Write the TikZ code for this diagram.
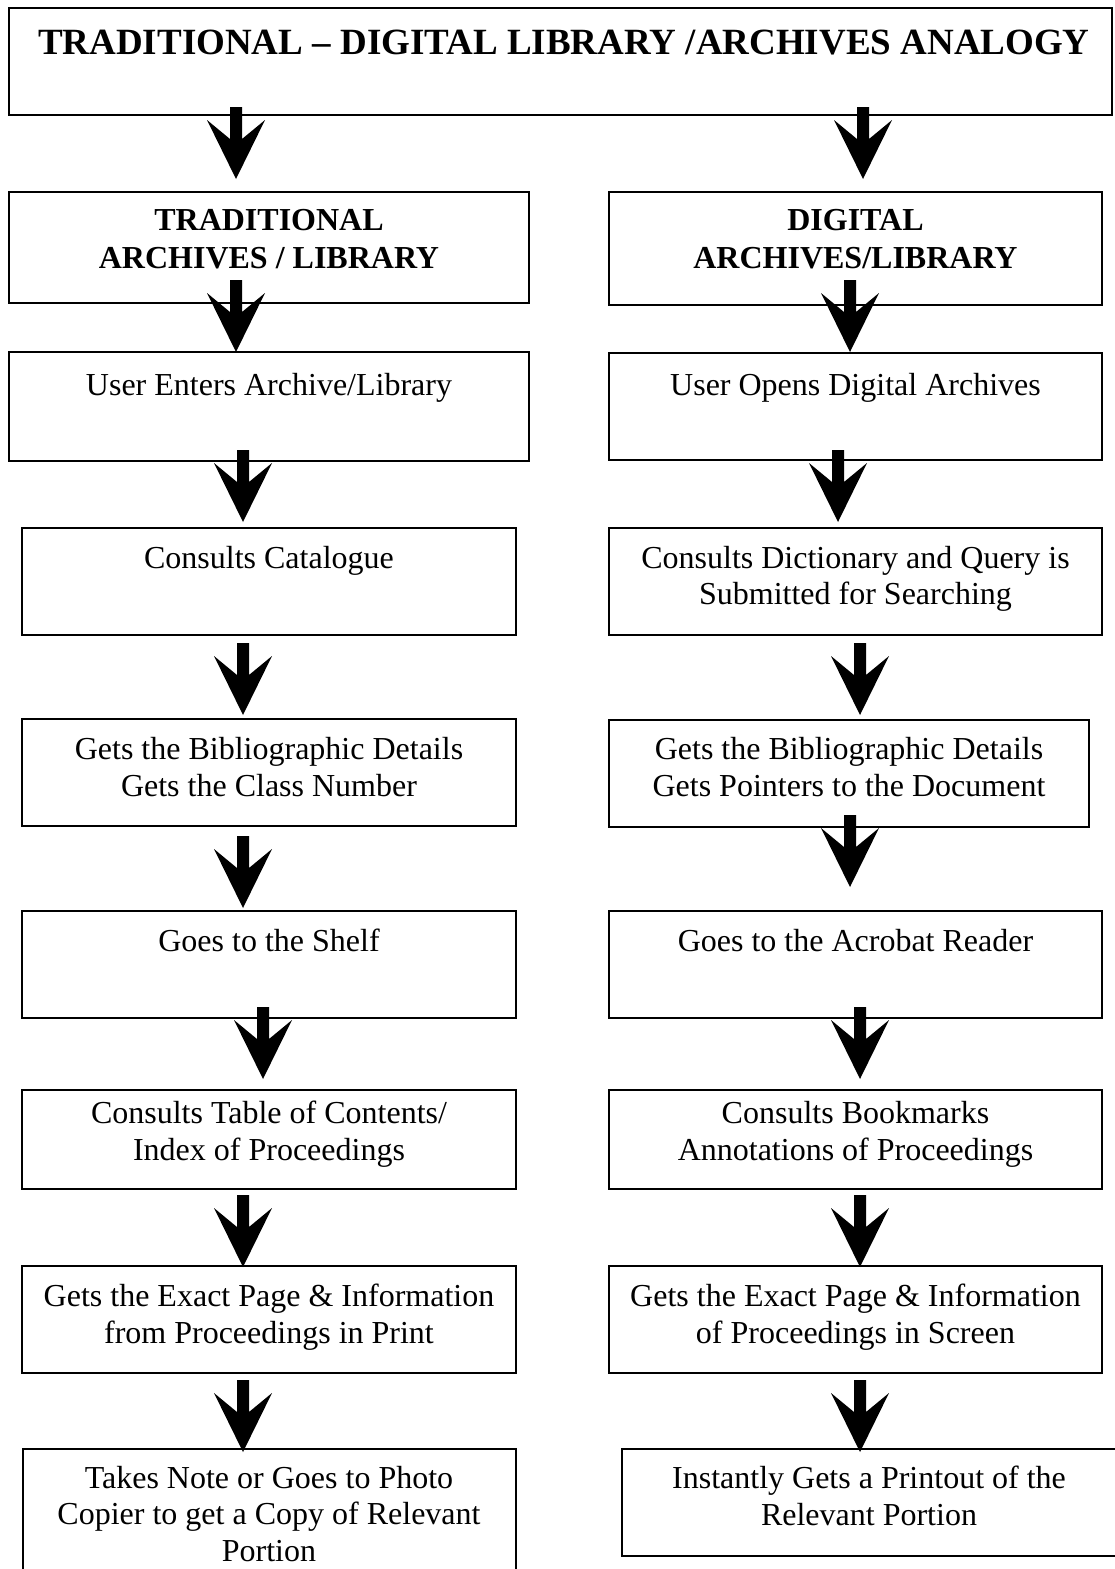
\documentclass[tikz,border=0pt]{standalone}
\usepackage{fontspec}
\setmainfont{Liberation Serif}
\usetikzlibrary{fit}
\begin{document}
\begin{tikzpicture}[x=0.5pt,y=-0.5pt,
  box/.style={draw=black,line width=1pt,inner sep=0pt,rectangle},
  txt/.style={inner sep=0pt,anchor=base,font=\fontsize{16}{18.5}\selectfont},
  btxt/.style={txt,font=\fontsize{16}{18.5}\selectfont\bfseries},
  ttl/.style={txt,font=\fontsize{18.5}{22}\selectfont\bfseries},
  blockarr/.pic={\fill[black] (-6,0) -- (6,0) -- (6,32) -- (29,13) -- (0,72) -- (-29,13) -- (-6,32) -- cycle;}]
\useasboundingbox (0,0) rectangle (1114,1569);
\fill[white] (0,0) rectangle (1114,1569);
% title
\node[box,fit={(9,8)(1112,115)}] (title) {};
\node[ttl] (titletxt) at (564,54) {TRADITIONAL – DIGITAL LIBRARY /ARCHIVES ANALOGY};
% row 1
\node[box,fit={(9,192)(529,303)}] (l1) {};
\node[btxt] (l1a) at (269,230) {TRADITIONAL};
\node[btxt] (l1b) at (269,268) {ARCHIVES / LIBRARY};
\node[box,fit={(609,192)(1102,305)}] (r1) {};
\node[btxt] (r1a) at (855.5,230) {DIGITAL};
\node[btxt] (r1b) at (855.5,268) {ARCHIVES/LIBRARY};
% row 2
\node[box,fit={(9,352)(529,461)}] (l2) {};
\node[txt] (l2a) at (269,395) {User Enters Archive/Library};
\node[box,fit={(609,353)(1102,460)}] (r2) {};
\node[txt] (r2a) at (855.5,395) {User Opens Digital Archives};
% row 3
\node[box,fit={(22,528)(516,635)}] (l3) {};
\node[txt] (l3a) at (269,568) {Consults Catalogue};
\node[box,fit={(609,528)(1102,635)}] (r3) {};
\node[txt] (r3a) at (855.5,568) {Consults Dictionary and Query is};
\node[txt] (r3b) at (855.5,604) {Submitted for Searching};
% row 4
\node[box,fit={(22,719)(516,826)}] (l4) {};
\node[txt] (l4a) at (269,759) {Gets the Bibliographic Details};
\node[txt] (l4b) at (269,796) {Gets the Class Number};
\node[box,fit={(609,720)(1089,827)}] (r4) {};
\node[txt] (r4a) at (849,759) {Gets the Bibliographic Details};
\node[txt] (r4b) at (849,796) {Gets Pointers to the Document};
% row 5
\node[box,fit={(22,911)(516,1018)}] (l5) {};
\node[txt] (l5a) at (269,951) {Goes to the Shelf};
\node[box,fit={(609,911)(1102,1018)}] (r5) {};
\node[txt] (r5a) at (855.5,951) {Goes to the Acrobat Reader};
% row 6
\node[box,fit={(22,1090)(516,1189)}] (l6) {};
\node[txt] (l6a) at (269,1123) {Consults Table of Contents/};
\node[txt] (l6b) at (269,1160) {Index of Proceedings};
\node[box,fit={(609,1090)(1102,1189)}] (r6) {};
\node[txt] (r6a) at (855.5,1123) {Consults Bookmarks};
\node[txt] (r6b) at (855.5,1160) {Annotations of Proceedings};
% row 7
\node[box,fit={(22,1266)(516,1373)}] (l7) {};
\node[txt] (l7a) at (269,1306) {Gets the Exact Page \& Information};
\node[txt] (l7b) at (269,1343) {from Proceedings in Print};
\node[box,fit={(609,1266)(1102,1373)}] (r7) {};
\node[txt] (r7a) at (855.5,1306) {Gets the Exact Page \& Information};
\node[txt] (r7b) at (855.5,1343) {of Proceedings in Screen};
% row 8
\node[box,fit={(23,1449)(516,1600)}] (l8) {};
\node[txt] (l8a) at (269,1488) {Takes Note or Goes to Photo};
\node[txt] (l8b) at (269,1524) {Copier to get a Copy of Relevant};
\node[txt] (l8c) at (269,1561) {Portion};
\node[box,fit={(622,1449)(1120,1556)}] (r8) {};
\node[txt] (r8a) at (869,1488) {Instantly Gets a Printout of the};
\node[txt] (r8b) at (869,1525) {Relevant Portion};
% arrows
\pic at (236,107) {blockarr};
\pic at (863,107) {blockarr};
\pic at (236,280) {blockarr};
\pic at (850,280) {blockarr};
\pic at (243,450) {blockarr};
\pic at (838,450) {blockarr};
\pic at (243,643) {blockarr};
\pic at (860,643) {blockarr};
\pic at (243,836) {blockarr};
\pic at (850,815) {blockarr};
\pic at (263,1007) {blockarr};
\pic at (860,1007) {blockarr};
\pic at (243,1195) {blockarr};
\pic at (860,1195) {blockarr};
\pic at (243,1380) {blockarr};
\pic at (860,1380) {blockarr};
\end{tikzpicture}
\end{document}
